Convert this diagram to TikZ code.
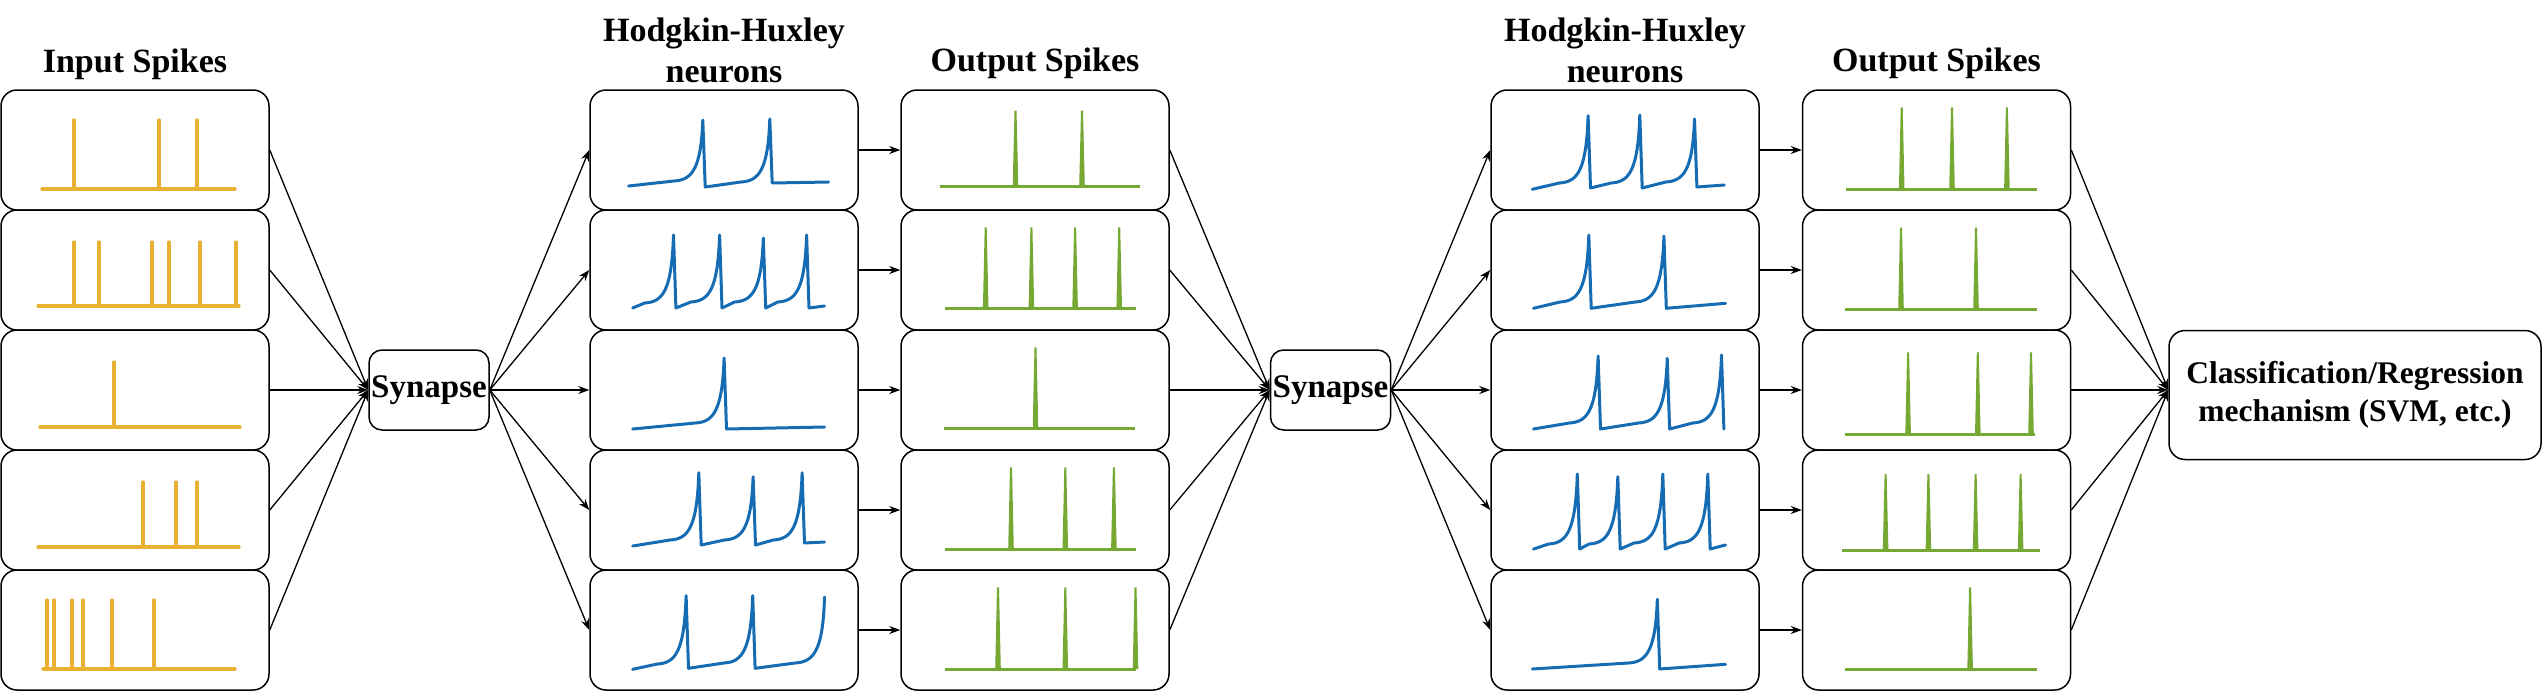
\documentclass[tikz,border=0pt]{standalone}
\usepackage{fontspec}
\setmainfont{Liberation Serif}
\usetikzlibrary{arrows.meta}
\definecolor{spkin}{RGB}{232,177,50}
\definecolor{spkout}{RGB}{118,168,52}
\definecolor{hhblue}{RGB}{22,108,178}
% HH spike segment: peak x, pre-spike baseline, peak top, reset level
\newcommand\hs[4]{-- ({#1-30},{#2}) .. controls ({#1-12},{#2-1}) and ({#1-3},{#2-12}) .. ({#1-1.2},{#3}) -- ({#1+1.2},{#4})}
\newcommand\intrain[5]{%
  \draw[inp] (#1,#3) -- (#2,#3);
  \foreach \s in {#5} {\draw[inp] (\s,#3) -- (\s,#4);}
}
\newcommand\outtrain[5]{%
  \draw[outp] (#1,#3) -- (#2,#3);
  \foreach \s in {#5} {\fill[spkout] ({\s-2.8},#3) -- ({\s-1},#4) -- ({\s+1},#4) -- ({\s+2.8},#3) -- cycle;}
}
\tikzset{
  box/.style={draw, line width=1.5pt, rounded corners=16pt, minimum width=268pt, minimum height=120pt, inner sep=0pt},
  syn/.style={draw, line width=1.5pt, rounded corners=13pt, minimum width=120pt, minimum height=80pt, inner sep=0pt, font=\fontsize{33}{36}\selectfont\bfseries},
  ttl/.style={font=\fontsize{34}{41}\selectfont\bfseries, inner sep=0pt, align=center},
  conn/.style={line width=1.3pt, -{Stealth[length=11pt,width=8pt]}},
  inp/.style={line width=3.2pt, spkin, line cap=round},
  outp/.style={line width=3pt, spkout},
  hh/.style={line width=3pt, hhblue, line join=round, line cap=round},
}
\begin{document}
\begin{tikzpicture}[x=1pt,y=-1pt]
\useasboundingbox (0,0) rectangle (2542,691);
% titles
\node[ttl, anchor=base] (tin) at (135,72) {Input Spikes};
\node[ttl, anchor=base] (thh1) at (724,82) {Hodgkin-Huxley\\neurons};
\node[ttl, anchor=base] (tout1) at (1035,71) {Output Spikes};
\node[ttl, anchor=base] (thh2) at (1625,82) {Hodgkin-Huxley\\neurons};
\node[ttl, anchor=base] (tout2) at (1936.5,71) {Output Spikes};
% boxes
\foreach \r/\y in {1/150,2/270,3/390,4/510,5/630} {
  \node[box] (in\r) at (135,\y) {};
  \node[box] (hha\r) at (724,\y) {};
  \node[box] (outa\r) at (1035,\y) {};
  \node[box] (hhb\r) at (1625,\y) {};
  \node[box] (outb\r) at (1936.5,\y) {};
}
\node[syn] (syn1) at (429,390) {Synapse};
\node[syn] (syn2) at (1330.5,390) {Synapse};
\node[draw, line width=1.5pt, rounded corners=16pt, minimum width=372pt, minimum height=129pt, inner sep=0pt,
  font=\fontsize{31.5}{38}\selectfont\bfseries, align=center] (cls) at (2355,395) {Classification/Regression\\mechanism (SVM, etc.)};
\coordinate (cin) at (cls.west |- syn2.west);
% input spikes
\begin{scope}[shift={(1,90)}]\intrain{41}{234}{99}{30}{73,158,196}\end{scope}
\begin{scope}[shift={(1,210)}]\intrain{37}{238}{96}{32}{73,98,151,168,199,235}\end{scope}
\begin{scope}[shift={(1,330)}]\intrain{39}{239}{97}{32}{113}\end{scope}
\begin{scope}[shift={(1,450)}]\intrain{37}{238}{97}{32}{142,175,196}\end{scope}
\begin{scope}[shift={(1,570)}]\intrain{42}{234}{99}{30}{46,53,71,82,111,153}\end{scope}
% output spikes 1
\begin{scope}[shift={(901,90)}]\outtrain{39.4}{238.6}{96}{20.7}{114.5,181}\end{scope}
\begin{scope}[shift={(901,210)}]\outtrain{43.5}{234.5}{98.3}{17.3}{84.7,130.4,174.1,218.2}\end{scope}
\begin{scope}[shift={(901,330)}]\outtrain{42.7}{233.7}{98.7}{17.3}{134.5}\end{scope}
\begin{scope}[shift={(901,450)}]\outtrain{43.5}{234.5}{99}{17.3}{110,164.3,212.9}\end{scope}
\begin{scope}[shift={(901,570)}]\outtrain{43.5}{235.3}{99}{17.3}{97,164.3,234.5}\end{scope}
% output spikes 2
\begin{scope}[shift={(1802,90)}]\outtrain{43.7}{234.5}{99.3}{17.3}{99.7,150,204.9}\end{scope}
\begin{scope}[shift={(1802,210)}]\outtrain{43}{234.5}{99}{17.7}{99,174}\end{scope}
\begin{scope}[shift={(1802,330)}]\outtrain{42.5}{233.4}{104}{22.3}{106.1,175.8,229}\end{scope}
\begin{scope}[shift={(1802,450)}]\outtrain{39.7}{237.8}{100}{24}{83.6,126.4,173.6,218.6}\end{scope}
\begin{scope}[shift={(1802,570)}]\outtrain{43}{234.5}{99}{17.3}{168.1}\end{scope}
% HH traces 1
\begin{scope}[shift={(590,90)}]
  \draw[hh] (38.6,96) \hs{114}{91}{30}{97} \hs{181}{92}{29}{93} -- (238.6,92);
\end{scope}
\begin{scope}[shift={(590,210)}]
  \draw[hh] (42.7,98) \hs{84.7}{93}{25}{98} \hs{130.8}{92}{25}{98} \hs{174.5}{92}{28}{98} \hs{217.8}{92}{25}{98} -- (234.5,96);
\end{scope}
\begin{scope}[shift={(590,330)}]
  \draw[hh] (42.7,99) \hs{135.3}{93}{28}{99} -- (234.5,97);
\end{scope}
\begin{scope}[shift={(590,450)}]
  \draw[hh] (42.7,96) \hs{110}{90}{22.7}{95} \hs{164.3}{90}{26.7}{95} \hs{213.3}{90}{22.7}{93} -- (234.5,92);
\end{scope}
\begin{scope}[shift={(590,570)}]
  \draw[hh] (42.7,99.3) \hs{97.3}{94}{25.7}{98.3} \hs{163.9}{93}{25.7}{98.3} -- (205,93) .. controls (223,92) and (233,82) .. (234.5,27);
\end{scope}
% HH traces 2
\begin{scope}[shift={(1491,90)}]
  \draw[hh] (41.3,99.3) \hs{98.3}{93}{25.7}{98} \hs{150}{93}{25}{98} \hs{204.7}{92}{29}{97} -- (233.3,95);
\end{scope}
\begin{scope}[shift={(1491,210)}]
  \draw[hh] (42.5,98.3) \hs{99}{92}{25}{98.3} \hs{174.1}{92}{26}{98.3} -- (234.5,93.3);
\end{scope}
\begin{scope}[shift={(1491,330)}]
  \draw[hh] (42.5,99) \hs{108.3}{93}{26}{99} \hs{177.4}{93}{28.3}{99} \hs{231.7}{93}{25}{99};
\end{scope}
\begin{scope}[shift={(1491,450)}]
  \draw[hh] (42.5,99) \hs{87.5}{94}{24}{99} \hs{128}{94}{26.7}{99} \hs{173}{93}{24}{99} \hs{218}{93}{24}{99} -- (234.5,95);
\end{scope}
\begin{scope}[shift={(1491,570)}]
  \draw[hh] (41.4,99) \hs{167.5}{93}{29.3}{99} -- (234.5,94.3);
\end{scope}
% connectors
\foreach \r in {1,...,5} {
  \draw[conn] (in\r.east) -- (syn1.west);
  \draw[conn] (syn1.east) -- (hha\r.west);
  \draw[conn] (hha\r.east) -- (outa\r.west);
  \draw[conn] (outa\r.east) -- (syn2.west);
  \draw[conn] (syn2.east) -- (hhb\r.west);
  \draw[conn] (hhb\r.east) -- (outb\r.west);
  \draw[conn] (outb\r.east) -- (cin);
}
\end{tikzpicture}
\end{document}
